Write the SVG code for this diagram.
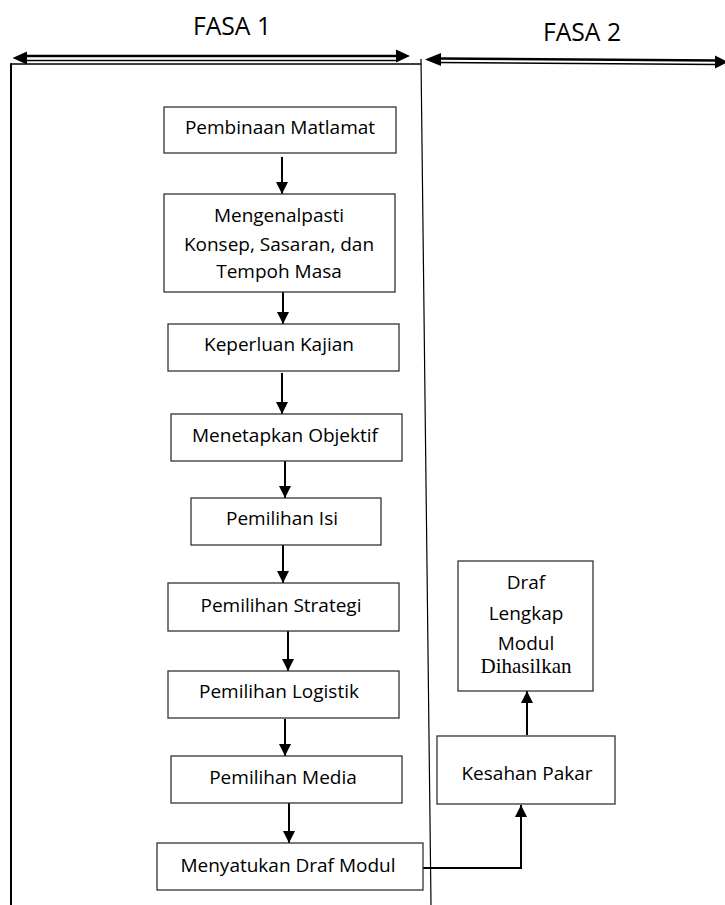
<svg xmlns="http://www.w3.org/2000/svg" width="725" height="905" viewBox="0 0 725 905">
<style>
.box{fill:#fff;stroke:#333;stroke-width:1.3}
.t{font-family:"Open Sans","Noto Sans",sans-serif;font-size:19px;fill:#000;text-anchor:middle}
.ts{font-family:"Liberation Serif","Times New Roman",serif;font-size:21px;fill:#000;text-anchor:middle}
.h{font-family:"Open Sans","Noto Sans",sans-serif;font-size:26px;fill:#000;text-anchor:middle}
.c{fill:none;stroke:#000;stroke-width:2;marker-end:url(#ah)}
</style>
<defs>
<marker id="ah" markerUnits="userSpaceOnUse" markerWidth="14" markerHeight="14" refX="12" refY="6" orient="auto">
<path d="M0,0 L12,6 L0,12 Z" fill="#000"/>
</marker>
</defs>
<rect width="725" height="905" fill="#fff"/>
<g id="phases">
<text class="h" x="232" y="34.5" textLength="78" lengthAdjust="spacingAndGlyphs">FASA 1</text>
<text class="h" x="582" y="41" textLength="78" lengthAdjust="spacingAndGlyphs">FASA 2</text>
<line x1="24" y1="56" x2="399" y2="56" stroke="#000" stroke-width="2.4"/>
<line x1="24" y1="60.5" x2="399" y2="60.5" stroke="#000" stroke-width="1.3"/>
<polygon points="12.5,58 27,51.5 27,64.5" fill="#000"/>
<polygon points="410,56 396,49.5 396,62.5" fill="#000"/>
<line x1="438" y1="58.5" x2="718" y2="60.5" stroke="#000" stroke-width="2.4"/>
<line x1="438" y1="62.5" x2="718" y2="64.5" stroke="#000" stroke-width="1.6"/>
<polygon points="425,59.5 441,53 441,66" fill="#000"/>
<polygon points="728,62 715,55.5 715,68.5" fill="#000"/>
</g>
<g id="frame">
<line x1="10" y1="64" x2="421" y2="64" stroke="#000" stroke-width="1.3"/>
<line x1="11" y1="63.5" x2="11" y2="905" stroke="#000" stroke-width="2"/>
<line x1="421" y1="59" x2="431" y2="905" stroke="#000" stroke-width="1.2"/>
</g>
<g id="connectors">
<line class="c" x1="282" y1="157" x2="282" y2="194"/>
<line class="c" x1="283" y1="292" x2="283" y2="324"/>
<line class="c" x1="282" y1="373" x2="282" y2="414"/>
<line class="c" x1="285" y1="461" x2="285" y2="498"/>
<line class="c" x1="283" y1="545" x2="283" y2="583"/>
<line class="c" x1="288" y1="631" x2="288" y2="671"/>
<line class="c" x1="285" y1="719" x2="285" y2="756"/>
<line class="c" x1="289" y1="803" x2="289" y2="843"/>
<path class="c" d="M423,868 H521 V805"/>
<line class="c" x1="527" y1="735" x2="527" y2="691"/>
</g>
<g id="n1"><rect class="box" x="164" y="107" width="232" height="46"/><text class="t" x="280" y="134">Pembinaan Matlamat</text></g>
<g id="n2"><rect class="box" x="164" y="194" width="231" height="98"/>
<text class="t" x="279" y="222">Mengenalpasti</text>
<text class="t" x="279" y="251">Konsep, Sasaran, dan</text>
<text class="t" x="279" y="278">Tempoh Masa</text></g>
<g id="n3"><rect class="box" x="168" y="324" width="231" height="47"/><text class="t" x="279" y="351">Keperluan Kajian</text></g>
<g id="n4"><rect class="box" x="171" y="414" width="231" height="47"/><text class="t" x="285" y="442">Menetapkan Objektif</text></g>
<g id="n5"><rect class="box" x="191" y="498" width="190" height="47"/><text class="t" x="282" y="525">Pemilihan Isi</text></g>
<g id="n6"><rect class="box" x="168" y="583" width="231" height="48"/><text class="t" x="281" y="612">Pemilihan Strategi</text></g>
<g id="n7"><rect class="box" x="168" y="671" width="231" height="47"/><text class="t" x="279" y="698">Pemilihan Logistik</text></g>
<g id="n8"><rect class="box" x="171" y="756" width="231" height="47"/><text class="t" x="283" y="784">Pemilihan Media</text></g>
<g id="n9"><rect class="box" x="157" y="843" width="266" height="47"/><text class="t" x="288" y="872">Menyatukan Draf Modul</text></g>
<g id="n10"><rect class="box" x="437" y="736" width="178" height="68"/><text class="t" x="527" y="780">Kesahan Pakar</text></g>
<g id="n11"><rect class="box" x="458" y="561" width="135" height="130"/>
<text class="t" x="526" y="589">Draf</text>
<text class="t" x="526" y="620">Lengkap</text>
<text class="t" x="526" y="650">Modul</text>
<text class="ts" x="526" y="673">Dihasilkan</text></g>
</svg>
